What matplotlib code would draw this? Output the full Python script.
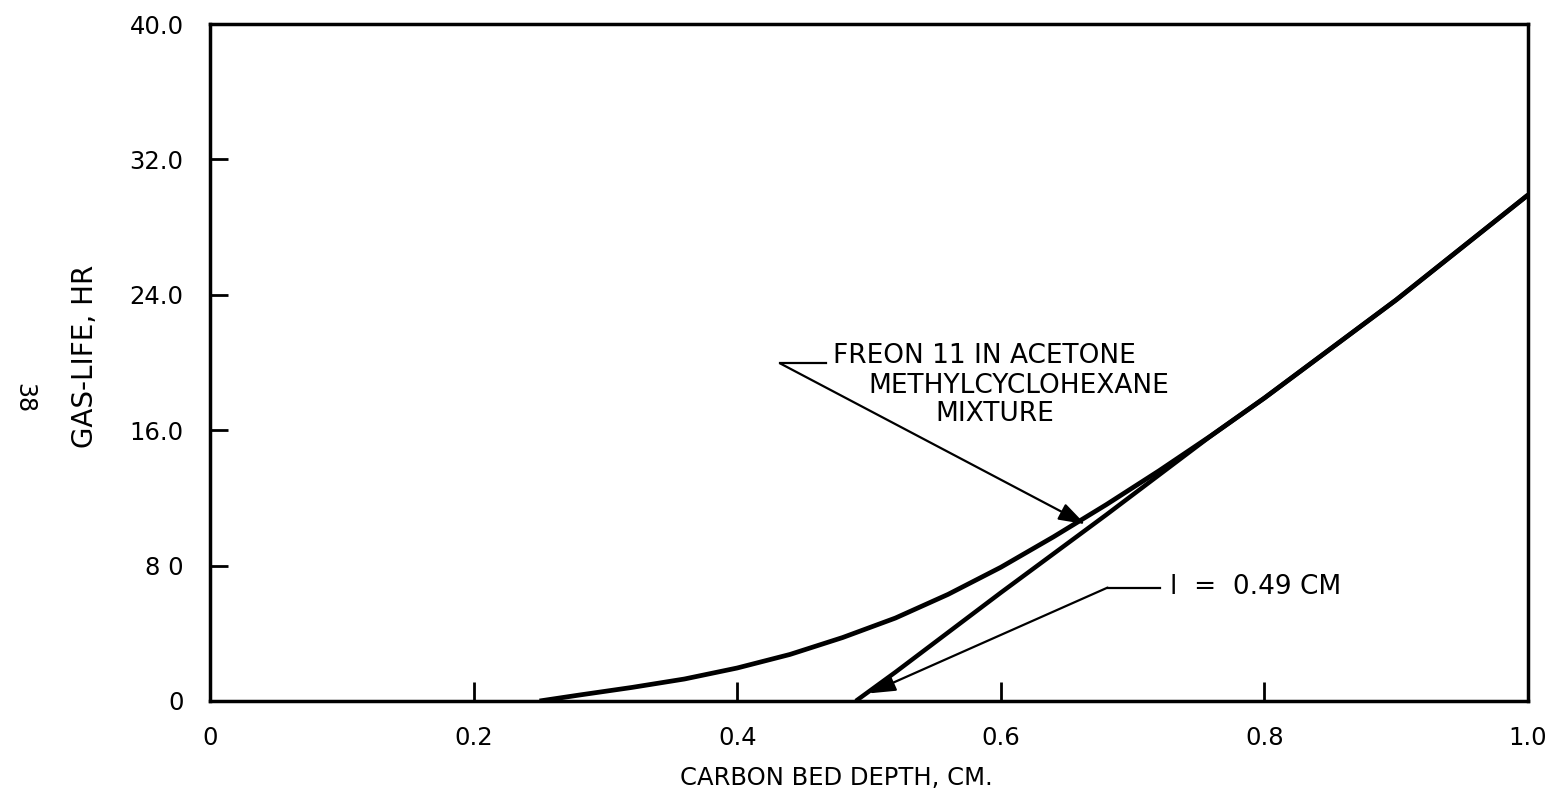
import matplotlib
matplotlib.use("Agg")
import matplotlib.pyplot as plt

# Gas-life vs. carbon bed depth: Freon 11 breakthrough curve
freon_depth = [0.25, 0.28, 0.32, 0.36, 0.40, 0.44, 0.48, 0.52, 0.56, 0.60, 0.64, 0.68,
               0.72, 0.76, 0.80, 0.85, 0.90, 0.95, 1.00]
freon_life = [0.0, 0.35, 0.8, 1.3, 1.95, 2.75, 3.75, 4.9, 6.3, 7.9, 9.7, 11.6,
              13.6, 15.7, 17.9, 20.8, 23.7, 26.8, 29.9]

# Straight-line asymptote with intercept at l = 0.49 cm
line_depth = [0.49, 0.52, 0.56, 0.60, 0.64, 0.68, 0.72, 0.76, 0.80, 0.85, 0.90, 0.95, 1.00]
line_life = [0.0, 1.7, 4.05, 6.4, 8.7, 11.0, 13.35, 15.7, 17.9, 20.8, 23.7, 26.8, 29.9]

x_ticks = [0, 0.2, 0.4, 0.6, 0.8, 1.0]
x_tick_labels = ["0", "0.2", "0.4", "0.6", "0.8", "1.0"]
y_ticks = [0, 8, 16, 24, 32, 40]
y_tick_labels = ["0", "8 0", "16.0", "24.0", "32.0", "40.0"]

plt.rcParams["font.family"] = ["DejaVu Sans"]

W, H = 1557, 797
fig = plt.figure(figsize=(W / 100, H / 100), dpi=100)
ax = fig.add_axes([210 / W, 1 - 701 / H, 1318 / W, 677 / H])

ax.plot(freon_depth, freon_life, color="black", lw=3.4,
        solid_capstyle="butt", solid_joinstyle="round")
ax.plot(line_depth, line_life, color="black", lw=3.2,
        solid_capstyle="butt", solid_joinstyle="round")

ax.set_xlim(0, 1.0)
ax.set_ylim(0, 40)
ax.set_xticks(x_ticks)
ax.set_xticklabels(x_tick_labels)
ax.set_yticks(y_ticks)
ax.set_yticklabels(y_tick_labels)
ax.tick_params(direction="in", width=2, labelsize=17.5, color="black")
ax.tick_params(axis="x", length=14, pad=18)
ax.tick_params(axis="y", length=13, pad=19)
for s in ax.spines.values():
    s.set_linewidth(2.5)

fig.text(836 / W, 1 - 778 / H, "CARBON BED DEPTH, CM.", fontsize=17.5,
         ha="center", va="center")
fig.text(85 / W, 1 - 356 / H, "GAS-LIFE, HR", fontsize=20, rotation=90,
         ha="center", va="center")
fig.text(24 / W, 1 - 398 / H, "38", rotation=-90, fontsize=17,
         ha="center", va="center")

arrow_style = dict(arrowstyle="-|>,head_length=0.9,head_width=0.3",
                   color="black", lw=1.6, shrinkA=0, shrinkB=0,
                   mutation_scale=18)

# Annotation: Freon curve
ax.annotate("", xy=(0.664, 10.45), xytext=(0.4325, 19.95), arrowprops=arrow_style)
ax.plot([0.4325, 0.467], [19.95, 19.95], color="black", lw=1.6)
ax.text(0.4727, 20.36, "FREON 11 IN ACETONE", fontsize=19, ha="left", va="center")
ax.text(0.4992, 18.64, "METHYLCYCLOHEXANE", fontsize=19, ha="left", va="center")
ax.text(0.550, 16.98, "MIXTURE", fontsize=19, ha="left", va="center")

# Annotation: intercept
ax.annotate("", xy=(0.50, 0.45), xytext=(0.681, 6.7), arrowprops=arrow_style)
ax.plot([0.681, 0.721], [6.7, 6.7], color="black", lw=1.6)
ax.text(0.728, 6.75, "l  =  0.49 CM", fontsize=19, ha="left", va="center")

fig.savefig("out.png", dpi=100)
